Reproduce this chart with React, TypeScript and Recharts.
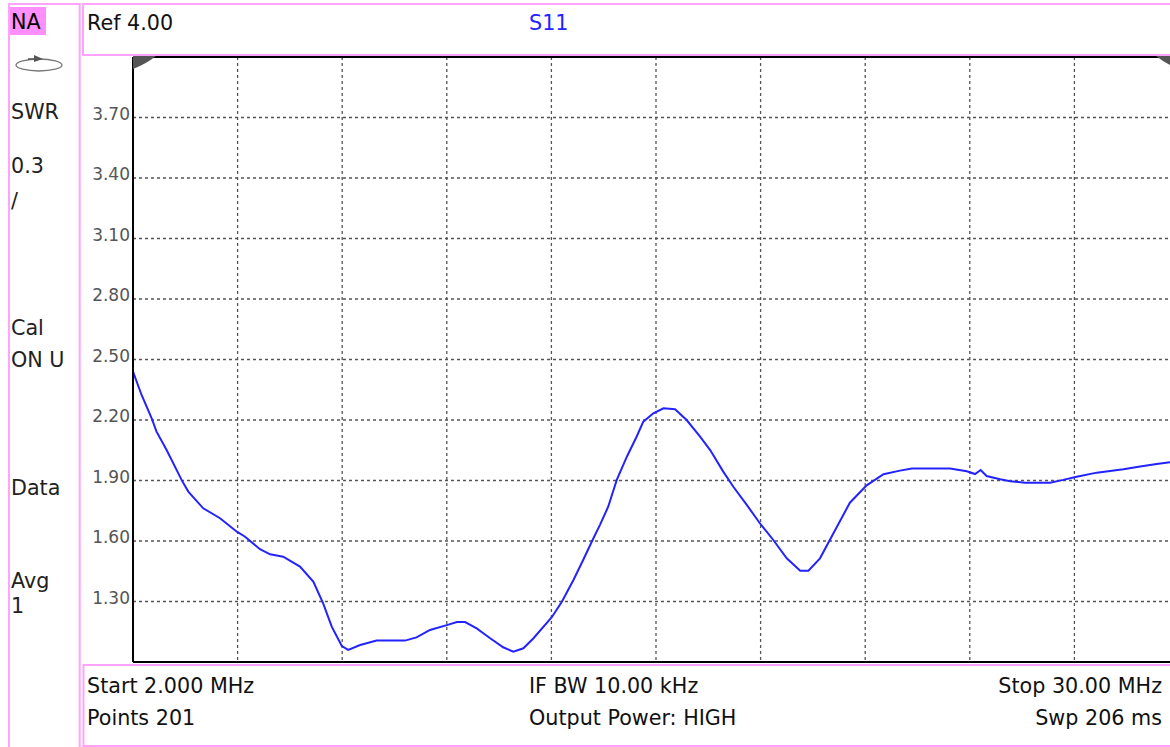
import React from 'react';
import { LineChart, Line, XAxis, YAxis, CartesianGrid, ReferenceLine } from 'recharts';

const FONT = '"DejaVu Sans", Verdana, sans-serif';

// Frequency (MHz) and SWR trace
const freqMHz = [
  2.0, 2.23, 2.5, 2.63, 2.9, 3.3, 3.48, 3.88, 4.33, 4.78, 5.0, 5.4, 5.67, 6.02, 6.47,
  6.83, 7.09, 7.32, 7.59, 7.76, 8.08, 8.52, 9.28, 9.59, 9.95, 10.4, 10.67, 10.89, 11.2,
  11.56, 11.91, 12.18, 12.45, 12.72, 13.21, 13.48, 13.79, 14.05, 14.29, 14.5, 14.72,
  14.95, 15.22, 15.48, 15.66, 15.93, 16.2, 16.51, 16.82, 17.18, 17.45, 17.8, 18.07,
  18.43, 18.78, 19.14, 19.5, 19.86, 20.08, 20.39, 20.75, 21.19, 21.64, 22.09, 22.53,
  22.85, 23.87, 24.32, 24.54, 24.69, 24.85, 25.21, 25.48, 25.88, 26.55, 26.9, 27.26,
  27.8, 28.51, 28.96, 29.4, 29.76, 30.0,
];
const swr = [
  2.44, 2.324, 2.208, 2.142, 2.051, 1.903, 1.845, 1.762, 1.713, 1.646, 1.621, 1.559, 1.534, 1.522, 1.473,
  1.398, 1.291, 1.175, 1.079, 1.06, 1.084, 1.106, 1.106, 1.122, 1.159, 1.183, 1.198, 1.198, 1.167,
  1.118, 1.073, 1.051, 1.068, 1.118, 1.222, 1.299, 1.407, 1.506, 1.6, 1.68, 1.77,
  1.903, 2.018, 2.117, 2.192, 2.233, 2.258, 2.253, 2.2, 2.117, 2.051, 1.944, 1.869,
  1.779, 1.688, 1.605, 1.514, 1.453, 1.453, 1.514, 1.638, 1.79, 1.876, 1.931, 1.949,
  1.959, 1.959, 1.946, 1.932, 1.952, 1.922, 1.906, 1.896, 1.889, 1.889, 1.903, 1.919,
  1.939, 1.956, 1.969, 1.982, 1.99, 1.995,
];

const xTicks = [2, 4.8, 7.6, 10.4, 13.2, 16, 18.8, 21.6, 24.4, 27.2, 30];
const yTicks = [1.0, 1.3, 1.6, 1.9, 2.2, 2.5, 2.8, 3.1, 3.4, 3.7, 4.0];

const sideLabels = [
  { t: 'SWR', y: 119 },
  { t: '0.3', y: 173 },
  { t: '/', y: 208 },
  { t: 'Cal', y: 335 },
  { t: 'ON U', y: 367 },
  { t: 'Data', y: 495 },
  { t: 'Avg', y: 588 },
  { t: '1', y: 613 },
];

const data = freqMHz.map((f, i) => ({ f, swr: swr[i] }));

function YTick(props: any) {
  const { x, y, payload } = props;
  const v = payload.value as number;
  if (v <= 1.0001 || v >= 3.9999) return <g />;
  return (
    <text x={x} y={y + 2} textAnchor="end" fill="#555" fontSize={17} fontFamily={FONT}>
      {v.toFixed(2)}
    </text>
  );
}

function NoTick() {
  return <g />;
}

const PINK = '#ffa3ff';
const TXT = { fontFamily: FONT, fontSize: 20.7 };

export default function App() {
  return (
    <div style={{ position: 'fixed', left: 0, top: 0, width: 1170, height: 747, overflow: 'hidden', background: '#fff' }}>
      <div style={{ position: 'absolute', left: 0, top: 0 }}>
        <LineChart width={1190} height={680} data={data} margin={{ top: 57, right: 11, bottom: 17, left: 73 }}>
          <CartesianGrid stroke="#555" strokeDasharray="3 3" strokeWidth={1.3} vertical={true} horizontal={true} />
          <XAxis
            dataKey="f"
            type="number"
            domain={[2, 30]}
            ticks={xTicks}
            interval={0}
            tick={<NoTick />}
            tickLine={false}
            height={1}
            allowDataOverflow
            axisLine={{ stroke: '#000', strokeWidth: 2 }}
          />
          <YAxis
            type="number"
            domain={[1, 4]}
            ticks={yTicks}
            interval={0}
            width={60}
            tickLine={false}
            tickSize={0}
            tickMargin={3}
            tick={<YTick />}
            allowDataOverflow
            axisLine={{ stroke: '#000', strokeWidth: 2 }}
          />
          <ReferenceLine y={4} stroke="#000" strokeWidth={2} />
          <Line
            dataKey="swr"
            type="linear"
            stroke="#2323ff"
            strokeWidth={2}
            dot={false}
            isAnimationActive={false}
          />
        </LineChart>
      </div>
      <svg width={1170} height={747} style={{ position: 'absolute', left: 0, top: 0, pointerEvents: 'none' }}>
        {/* panels */}
        <rect x={9} y={4} width={70.7} height={800} fill="none" stroke={PINK} strokeWidth={2} />
        <rect x={83} y={4} width={1200} height={51} fill="none" stroke={PINK} strokeWidth={2} />
        <rect x={83.5} y={665} width={1200} height={81} fill="none" stroke={PINK} strokeWidth={2} />
        {/* NA highlight */}
        <rect x={10} y={7} width={36} height={28} fill="#ff8fff" />
        <text x={11} y={29} fill="#000" {...TXT}>NA</text>
        {/* sweep icon */}
        <ellipse cx={39} cy={65} rx={23} ry={6} fill="none" stroke="#777" strokeWidth={1.3} />
        <line x1={28} y1={59} x2={40} y2={59} stroke="#555" strokeWidth={1.5} />
        <polygon points="34,55 43,59 34,62" fill="#555" />
        {sideLabels.map((s) => (
          <text key={s.t} x={11} y={s.y} fill="#222" {...TXT}>{s.t}</text>
        ))}
        {/* header */}
        <text x={87} y={30} fill="#111" {...TXT}>Ref 4.00</text>
        <text x={529} y={30} fill="#2323ff" {...TXT}>S11</text>
        {/* corner markers */}
        <path d="M133,56 L156,56 Q146,64 133,69 Z" fill="#555" />
        <path d="M1156,56 L1179,56 L1179,69 Q1166,64 1156,56 Z" fill="#555" />
        {/* footer */}
        <text x={87} y={693} fill="#111" {...TXT}>Start 2.000 MHz</text>
        <text x={87} y={725} fill="#111" {...TXT}>Points 201</text>
        <text x={529} y={693} fill="#111" {...TXT}>IF BW 10.00 kHz</text>
        <text x={529} y={725} fill="#111" {...TXT}>Output Power: HIGH</text>
        <text x={1162} y={693} fill="#111" textAnchor="end" {...TXT}>Stop 30.00 MHz</text>
        <text x={1162} y={725} fill="#111" textAnchor="end" {...TXT}>Swp 206 ms</text>
      </svg>
    </div>
  );
}
